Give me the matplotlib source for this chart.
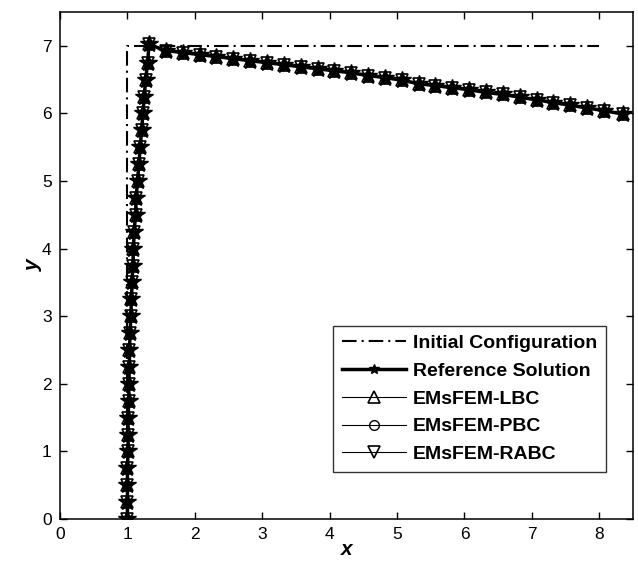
import matplotlib
matplotlib.use("Agg")
import matplotlib.pyplot as plt

plt.rcParams["font.family"] = ["Liberation Sans", "DejaVu Sans"]

# initial (undeformed) frame
init_x = [1.0, 1.0, 8.0]
init_y = [0.0, 7.0, 7.0]

# deformed configuration, vertical member then horizontal member
ref_x = [1.00, 1.00, 1.00, 1.00, 1.01, 1.01, 1.01, 1.02, 1.02, 1.03,
         1.03, 1.04, 1.05, 1.06, 1.07, 1.08, 1.09, 1.10, 1.12, 1.13,
         1.15, 1.17, 1.19, 1.21, 1.23, 1.25, 1.27, 1.30, 1.32,
         1.57, 1.82, 2.07, 2.32, 2.57, 2.82, 3.07, 3.32, 3.57, 3.82,
         4.07, 4.32, 4.57, 4.82, 5.07, 5.32, 5.57, 5.82, 6.07, 6.32,
         6.57, 6.82, 7.07, 7.32, 7.57, 7.82, 8.07, 8.35]
ref_y = [0.00, 0.25, 0.50, 0.75, 1.00, 1.25, 1.50, 1.75, 2.00, 2.25,
         2.50, 2.75, 3.00, 3.25, 3.50, 3.75, 4.00, 4.25, 4.50, 4.75,
         5.00, 5.25, 5.50, 5.75, 6.00, 6.25, 6.50, 6.75, 7.02,
         6.93, 6.90, 6.87, 6.84, 6.81, 6.78, 6.75, 6.72, 6.69, 6.66,
         6.63, 6.60, 6.56, 6.53, 6.49, 6.44, 6.41, 6.38, 6.35, 6.31,
         6.28, 6.24, 6.20, 6.16, 6.12, 6.08, 6.04, 5.99]

# the three EMsFEM results sit on top of the reference at this scale
lbc_x, lbc_y = ref_x, ref_y
pbc_x, pbc_y = ref_x, ref_y
rabc_x, rabc_y = ref_x, ref_y

fig = plt.figure(figsize=(6.38, 5.68), dpi=100)
ax = fig.add_axes([60 / 638, 49 / 568, 573 / 638, 507 / 568])

ax.plot(init_x, init_y, color="black", lw=1.5,
        linestyle=(0, (7.0, 2.4, 1.0, 2.4)), label="Initial Configuration")
ax.plot(ref_x, ref_y, color="black", lw=2.5, marker="*", ms=13,
        mfc="black", mec="black", label="Reference Solution")
ax.plot(lbc_x, lbc_y, color="black", lw=0.8, marker="^", ms=9,
        mfc="none", mec="black", mew=1.2, label="EMsFEM-LBC")
ax.plot(pbc_x, pbc_y, color="black", lw=0.8, marker="o", ms=6,
        mfc="none", mec="black", mew=1.0, label="EMsFEM-PBC")
ax.plot(rabc_x, rabc_y, color="black", lw=0.8, marker="v", ms=9,
        mfc="none", mec="black", mew=1.2, label="EMsFEM-RABC")

ax.set_xlim(0, 8.5)
ax.set_ylim(0, 7.5)
ax.set_xticks(range(0, 9))
ax.set_yticks(range(0, 8))
ax.tick_params(direction="in", top=True, right=True, length=5, width=1,
               labelsize=12.5, pad=6)
for s in ax.spines.values():
    s.set_linewidth(1.1)

ax.set_xlabel("x", fontsize=15, fontweight="bold", fontstyle="italic", labelpad=-2)
ax.set_ylabel("y", fontsize=15, fontweight="bold", fontstyle="italic", labelpad=-1)

leg = ax.legend(loc="lower right", bbox_to_anchor=(0.953, 0.093),
                prop={"weight": "bold", "size": 14}, frameon=True, fancybox=False,
                edgecolor="black", handlelength=3.3, handletextpad=0.35,
                borderpad=0.45, labelspacing=0.52, borderaxespad=0)
leg.get_frame().set_linewidth(1.0)
handle_sizes = [0, 7, 9, 7, 9]
for h, s in zip(leg.legend_handles, handle_sizes):
    h.set_markersize(s)

fig.savefig("out.png", dpi=100)
